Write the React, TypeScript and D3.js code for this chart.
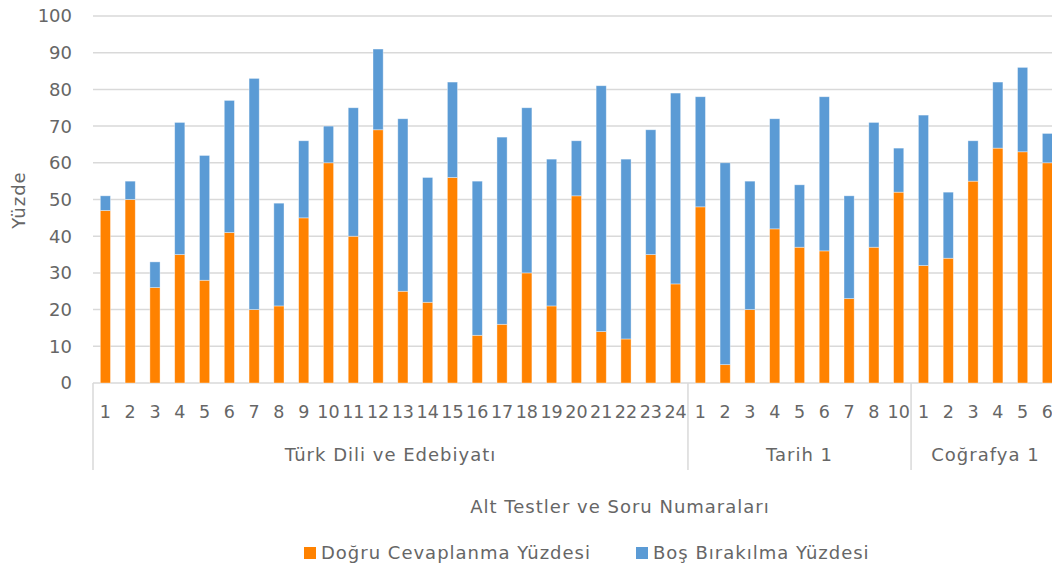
import React from "react";
import * as d3 from "d3";

const groups = ["Türk Dili ve Edebiyatı", "Tarih 1", "Coğrafya 1"];
const tdeQuestions = ["1","2","3","4","5","6","7","8","9","10","11","12","13","14","15","16","17","18","19","20","21","22","23","24"];
const tarihQuestions = ["1","2","3","4","5","6","7","8","10"];
const cografyaQuestions = ["1","2","3","4","5","6"];
const questionsByGroup = [tdeQuestions, tarihQuestions, cografyaQuestions];

const dogru = [47,50,26,35,28,41,20,21,45,60,40,69,25,22,56,13,16,30,21,51,14,12,35,27,
  48,5,20,42,37,36,23,37,52,
  32,34,55,64,63,60];
const bos = [4,5,7,36,34,36,63,28,21,10,35,22,47,34,26,42,51,45,40,15,67,49,34,52,
  30,55,35,30,17,42,28,34,12,
  41,18,11,18,23,8];

const yTicks = [0,10,20,30,40,50,60,70,80,90,100];
const legendLabels = ["Doğru Cevaplanma Yüzdesi", "Boş Bırakılma Yüzdesi"];
const colors = ["#FF8200", "#5B9BD5"];

const W = 1052, H = 568;
const left = 93, top = 16, bottom = 383;
const step = 24.79;
const FONT = "'DejaVu Sans', sans-serif";
const TXT = "#666666";
const LS = 1.0;

export default function App() {
  const cats: { key: string; label: string; group: number }[] = [];
  questionsByGroup.forEach((qs, g) => qs.forEach(q => cats.push({ key: g + "-" + q, label: q, group: g })));
  const x = d3.scaleBand<string>().domain(cats.map(c => c.key)).range([left, left + step * cats.length]).padding(0);
  const y = d3.scaleLinear().domain([0, 100]).range([bottom, top]);
  const bw = x.bandwidth() * 0.41;

  const stackData = cats.map((c, i) => ({ key: c.key, dogru: dogru[i], bos: bos[i] }));
  const series = d3.stack<any>().keys(["dogru", "bos"])(stackData);

  const boundaries: number[] = [left];
  let idx = 0;
  const groupCenters: number[] = [];
  questionsByGroup.forEach(qs => {
    const start = x(cats[idx].key)!;
    idx += qs.length;
    const end = start + step * qs.length;
    boundaries.push(end);
    groupCenters.push((start + end) / 2);
  });

  return (
    <svg width={W} height={H} style={{ position: "absolute", left: 0, top: 0, background: "#fff" }} fontFamily={FONT}>
      {yTicks.map(t => (
        <g key={t}>
          <line x1={left} x2={W + 20} y1={y(t)} y2={y(t)} stroke="#D9D9D9" strokeWidth={1.5} />
          <text x={72} y={y(t)} dy="0.36em" textAnchor="end" fontSize={18} fill={TXT}>{t}</text>
        </g>
      ))}
      {series.map((s, si) => (
        <g key={si} fill={colors[si]}>
          {s.map((d, i) => (
            <rect key={i} x={x(cats[i].key)! + (x.bandwidth() - bw) / 2} width={bw}
              y={y(d[1])} height={y(d[0]) - y(d[1])} stroke="#fff" strokeOpacity={0.5} strokeWidth={0.75} />
          ))}
        </g>
      ))}
      {boundaries.map((b, i) => (
        <line key={i} x1={b} x2={b} y1={bottom} y2={470} stroke="#D9D9D9" strokeWidth={1.5} />
      ))}
      {cats.map(c => (
        <text key={c.key} x={x(c.key)! + x.bandwidth() / 2} y={412} dy="0.36em" textAnchor="middle" fontSize={17.5} fill={TXT}>{c.label}</text>
      ))}
      {groups.map((g, i) => (
        <text key={g} x={groupCenters[i]} y={455} dy="0.36em" textAnchor="middle" fontSize={18} letterSpacing={LS} fill={TXT}>{g}</text>
      ))}
      <text x={620} y={507} dy="0.36em" textAnchor="middle" fontSize={18} letterSpacing={LS} fill={TXT}>Alt Testler ve Soru Numaraları</text>
      <text transform="translate(19,200) rotate(-90)" textAnchor="middle" dy="0.36em" fontSize={18} letterSpacing={LS} fill={TXT}>Yüzde</text>
      {legendLabels.map((l, i) => (
        <g key={l} transform={`translate(${[304, 636][i]},547)`}>
          <rect width={12} height={12} fill={colors[i]} />
          <text x={17} y={6} dy="0.36em" fontSize={18} letterSpacing={LS} fill={TXT}>{l}</text>
        </g>
      ))}
    </svg>
  );
}
